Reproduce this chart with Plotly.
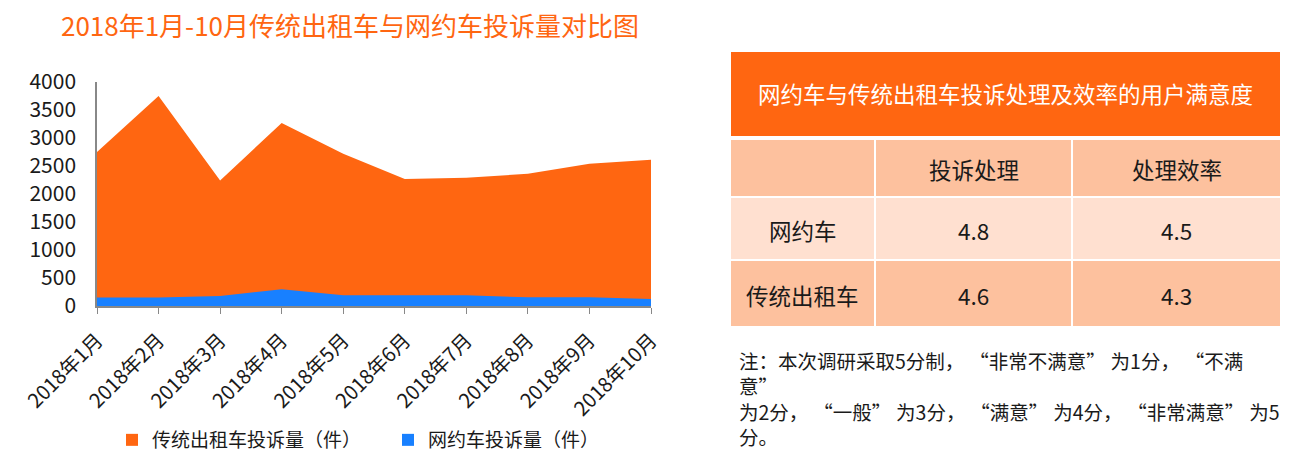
import plotly.graph_objects as go

W, H = 1295, 458

months = ["2018年1月", "2018年2月", "2018年3月", "2018年4月", "2018年5月",
          "2018年6月", "2018年7月", "2018年8月", "2018年9月", "2018年10月"]
taxi_complaints = [2750, 3750, 2240, 3270, 2720, 2270, 2290, 2360, 2540, 2610]
ridehail_complaints = [150, 150, 180, 300, 190, 190, 190, 155, 155, 125]
series_names = ["传统出租车投诉量（件）", "网约车投诉量（件）"]

table_title = "网约车与传统出租车投诉处理及效率的用户满意度"
table_columns = ["", "投诉处理", "处理效率"]
table_rows = ["网约车", "传统出租车"]
score_handling = ["4.8", "4.6"]
score_efficiency = ["4.5", "4.3"]

note_lines = ["注：本次调研采取5分制，“非常不满意”为1分，“不满", "意”",
              "为2分，“一般”为3分，“满意”为4分，“非常满意”为5", "分。"]

ORANGE = "#FF6611"
BLUE = "#1880FF"
PEACH = "#FDC19E"
LIGHT = "#FFE0D0"
FONT = "Noto Sans CJK SC"
TXT = "#1a1a1a"

# table layout (pixels)
COL_EDGES = [(731, 874), (876, 1071), (1073, 1280)]
ROW_EDGES = [(140, 196), (198, 259), (261, 326)]
ROW_FILLS = [PEACH, LIGHT, PEACH]
TITLE_BAND = (52, 136)


def px(x):
    return x / W


def py(y):
    return 1 - y / H


def widen_quotes(s):
    sp = "\u2005"
    return s.replace("“", sp + "“").replace("”", "”" + sp)


x_idx = list(range(len(months)))

fig = go.Figure()
fig.add_trace(go.Scatter(x=x_idx, y=taxi_complaints, mode="none", fill="tozeroy",
                         fillcolor=ORANGE, showlegend=False, hoverinfo="skip"))
fig.add_trace(go.Scatter(x=x_idx, y=ridehail_complaints, mode="none", fill="tozeroy",
                         fillcolor=BLUE, showlegend=False, hoverinfo="skip"))
for name, col in zip(series_names, [ORANGE, BLUE]):
    fig.add_trace(go.Scatter(x=[None], y=[None], mode="markers", name=name,
                             marker=dict(symbol="square", size=12, color=col)))

# ---- table (title band + grid) ----
shapes = [dict(type="rect", xref="paper", yref="paper",
               x0=px(COL_EDGES[0][0]), x1=px(COL_EDGES[-1][1]),
               y0=py(TITLE_BAND[1]), y1=py(TITLE_BAND[0]),
               fillcolor=ORANGE, line=dict(width=0), layer="below")]
annotations = [dict(text=table_title, xref="paper", yref="paper",
                    x=px((COL_EDGES[0][0] + COL_EDGES[-1][1]) / 2),
                    y=py(sum(TITLE_BAND) / 2 - 1), xanchor="center", yanchor="middle",
                    showarrow=False, font=dict(family=FONT, size=22.5, color="white"))]

grid = [table_columns] + [[r, a, b] for r, a, b in zip(table_rows, score_handling, score_efficiency)]
for ri, row in enumerate(grid):
    y0, y1 = ROW_EDGES[ri]
    for ci, val in enumerate(row):
        x0, x1 = COL_EDGES[ci]
        shapes.append(dict(type="rect", xref="paper", yref="paper",
                           x0=px(x0), x1=px(x1), y0=py(y1), y1=py(y0),
                           fillcolor=ROW_FILLS[ri], line=dict(width=0), layer="below"))
        if val:
            annotations.append(dict(text=val, xref="paper", yref="paper",
                                    x=px((x0 + x1) / 2), y=py((y0 + y1) / 2 + 1),
                                    xanchor="center", yanchor="middle", showarrow=False,
                                    font=dict(family=FONT, size=22.5, color=TXT)))

annotations.append(dict(text="<br>".join(widen_quotes(s) for s in note_lines),
                        xref="paper", yref="paper",
                        x=px(737), y=py(344), xanchor="left", yanchor="top", align="left",
                        showarrow=False, font=dict(family=FONT, size=19.5, color=TXT)))

fig.update_layout(
    width=W, height=H,
    margin=dict(l=0, r=0, t=0, b=0, autoexpand=False),
    paper_bgcolor="white", plot_bgcolor="white",
    font=dict(family=FONT, color=TXT),
    title=dict(text="2018年1月-10月传统出租车与网约车投诉量对比图",
               x=px(350), y=py(27), xanchor="center", yanchor="middle",
               xref="paper", yref="paper",
               font=dict(family=FONT, size=26, color=ORANGE)),
    xaxis=dict(domain=[px(97), px(651)], range=[0, len(months) - 1],
               tickmode="array", tickvals=x_idx, ticktext=months,
               tickangle=-45, ticks="outside", ticklen=6, tickcolor="#888",
               showline=True, linecolor="#888", linewidth=1.5,
               showgrid=False, zeroline=False, automargin=False,
               ticklabelstandoff=7,
               tickfont=dict(family=FONT, size=20, color=TXT)),
    yaxis=dict(domain=[py(306), py(82)], range=[0, 4000], dtick=500,
               showline=True, linecolor="#888", linewidth=1.5,
               showgrid=False, zeroline=False, ticks="", automargin=False,
               ticklabelstandoff=15,
               tickfont=dict(family=FONT, size=21, color=TXT)),
    legend=dict(orientation="h", x=px(112), y=py(440), xanchor="left", yanchor="middle",
                font=dict(family=FONT, size=19, color=TXT), itemwidth=30,
                entrywidth=231, entrywidthmode="pixels",
                bgcolor="rgba(0,0,0,0)"),
    shapes=shapes,
    annotations=annotations,
)

fig.write_html("out.html")
